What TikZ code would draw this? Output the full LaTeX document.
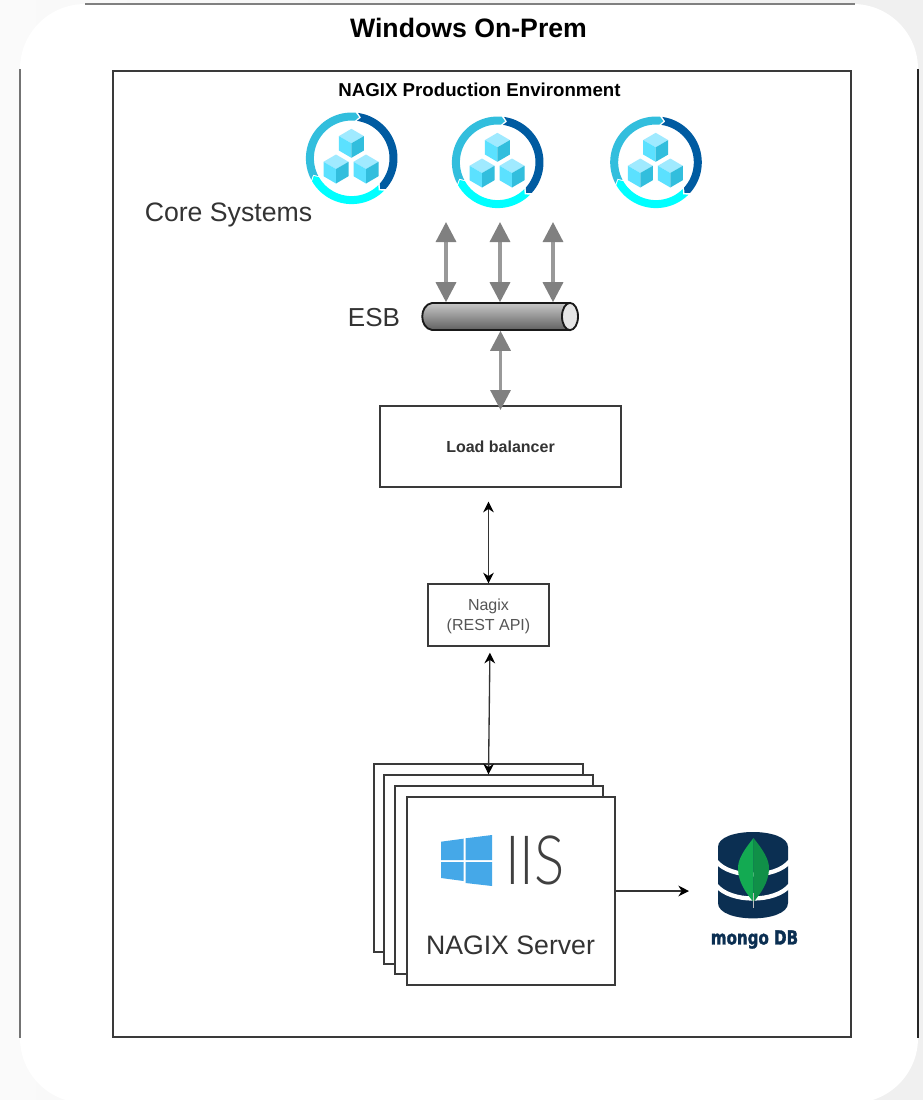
\documentclass[tikz,border=0pt]{standalone}
\usepackage{fontspec}
\usepackage{graphicx}
\setmainfont{Liberation Sans}
\newfontfamily\lightfont{Lato Light}
\newfontfamily\mongofont[BoldFeatures={FakeStretch=0.78,FakeBold=1.6}]{DejaVu Sans}
\usetikzlibrary{arrows.meta,calc}
\definecolor{framec}{HTML}{3A3A3A}
\definecolor{textc}{HTML}{333333}
\definecolor{softtext}{HTML}{555555}
\definecolor{shaftc}{HTML}{999999}
\definecolor{headc}{HTML}{808080}
\definecolor{ringlight}{HTML}{32BEDD}
\definecolor{ringdark}{HTML}{005BA1}
\definecolor{ringcyan}{HTML}{00FFFF}
\definecolor{cubetop}{HTML}{A0EAFF}
\definecolor{cubeleft}{HTML}{5BE1FF}
\definecolor{cuberight}{HTML}{32BEDD}
\definecolor{wincol}{HTML}{45A8E8}
\definecolor{mongodark}{HTML}{0B2F52}
\definecolor{leafl}{HTML}{13AA52}
\definecolor{leafr}{HTML}{109048}
\newcommand{\ringseg}[3]{\fill[#1] plot[domain=#2:#3,samples=30] ({45.8*cos(\x)},{-45.8*sin(\x)}) -- ({41.8*cos(#3-5)},{-41.8*sin(#3-5)}) -- plot[domain=#3:#2,samples=30] ({37.8*cos(\x)},{-37.8*sin(\x)}) -- ({41.8*cos(#2-5)},{-41.8*sin(#2-5)}) -- cycle;}
\newcommand{\onecube}[2]{\begin{scope}[shift={(#1,#2)}]
\fill[cubetop] (0,-14.5) -- (12.5,-7.2) -- (0,0) -- (-12.5,-7.2) -- cycle;
\fill[cubeleft] (-12.5,-7.2) -- (0,0) -- (0,14.5) -- (-12.5,7.2) -- cycle;
\fill[cuberight] (12.5,-7.2) -- (0,0) -- (0,14.5) -- (12.5,7.2) -- cycle;
\end{scope}}
\newcommand{\coreicon}[2]{\begin{scope}[shift={(#1,#2)}]
\ringseg{ringlight}{208}{85}
\ringseg{ringdark}{82}{-42}
\ringseg{ringcyan}{-45}{-150}
\onecube{-0.3}{-15}
\onecube{-15.7}{10.7}
\onecube{14.3}{10.7}
\end{scope}}
\def\pxu{0.75pt}
\tikzset{
  x=0.75pt,y=-0.75pt,
  boxa/.style={draw=framec,line width=1pt,fill=white,inner sep=0pt,rectangle},
  fat/.style={draw=shaftc,line width=2.4pt,{Triangle[length=15pt,width=15pt,color=headc]}-{Triangle[length=15pt,width=15pt,color=headc]}},
  thinbi/.style={draw=black!80,line width=1pt,{Stealth[length=8pt,width=8pt,black]}-{Stealth[length=8pt,width=8pt,black]}},
  thinone/.style={draw=black!80,line width=1pt,-{Stealth[length=8pt,width=8pt,black]}},
  labelt/.style={inner sep=0pt,text=textc,align=center}
}
\begin{document}
\begin{tikzpicture}
\useasboundingbox (0,0) rectangle (923,1100);
\shade[left color=black!2,right color=black!6] (0,0) rectangle (923,1100);
\fill[white,rounded corners=48.75pt] (20,4) rectangle (918,1103);
\draw[black!50,line width=0.9pt] (85,4) -- (855,4);
\draw[black!55,line width=0.9pt] (20,69) -- (20,1038);
\draw[black!85,line width=0.9pt] (918,69) -- (918,1038);

\node[boxa,line width=0.9pt,minimum width=738*\pxu,minimum height=966*\pxu] (prod) at (482,554) {};
\node[labelt,text=black,font=\bfseries\fontsize{20}{24}\selectfont] (title) at (468.5,28) {Windows On-Prem};
\node[labelt,text=black,font=\bfseries\fontsize{14}{17}\selectfont] (prodlabel) at (479.5,90) {NAGIX Production Environment};

\coreicon{351.7}{158.3}
\coreicon{497.7}{162.3}
\coreicon{656}{162.3}
\node[labelt,font=\fontsize{20}{24}\selectfont] (core) at (228.5,215) {Core Systems};
\node[labelt,font=\fontsize{19.5}{24}\selectfont] (esblabel) at (374,318) {ESB};

% ESB tube
\node[inner sep=0pt,minimum width=156*\pxu,minimum height=28*\pxu] (esb) at (500.5,316.5) {};
\path[draw=black!90,line width=1.4pt,top color=black!22,bottom color=black!62]
  (432,303) -- (570,303) -- (570,330) -- (432,330) .. controls (419,328) and (419,305) .. (432,303) -- cycle;
\draw[black!90,line width=1.4pt,fill=black!10] (570,316.5) ellipse [x radius=6pt,y radius=10.2pt];

\node[boxa,minimum width=241*\pxu,minimum height=81*\pxu,font=\bfseries\fontsize{12}{15}\selectfont,text=textc] (lb) at (500.5,446.5) {Load balancer};
\node[boxa,minimum width=121*\pxu,minimum height=62*\pxu] (nagix) at (488.5,615) {};
\node[labelt,font=\fontsize{12}{15}\selectfont,text=softtext] (nagixlabel) at (488.5,616.5) {Nagix\\(REST API)};

\coordinate (t1) at (446,222);
\coordinate (t2) at (500,222);
\coordinate (t3) at (553,222);
\draw[fat] (t1) -- (t1 |- esb.north);
\draw[fat] (t2) -- (t2 |- esb.north);
\draw[fat] (t3) -- (t3 |- esb.north);
\draw[fat] (esb.south) -- (500.5,410);

\node[boxa,minimum width=209*\pxu,minimum height=188*\pxu] (s1) at (478.5,858) {};
\node[boxa,minimum width=209*\pxu,minimum height=189*\pxu] (s2) at (488.5,869.5) {};
\node[boxa,minimum width=208*\pxu,minimum height=188*\pxu] (s3) at (499,880) {};
\node[boxa,minimum width=208*\pxu,minimum height=188*\pxu] (s4) at (511,891) {};

\draw[thinbi,shorten >=10.5pt] (nagix.north) -- (nagix.north |- lb.south);
\draw[thinbi,shorten <=5pt] (490,646) -- (s2.north);

% IIS logo
\fill[wincol] (441,841.7) -- (463.5,838.7) -- (463.5,860) -- (441,860) -- cycle;
\fill[wincol] (465.5,838.3) -- (492,835) -- (492,860) -- (465.5,860) -- cycle;
\fill[wincol] (441,862) -- (463.5,862) -- (463.5,881) -- (441,878) -- cycle;
\fill[wincol] (465.5,862) -- (492,862) -- (492,886) -- (465.5,883) -- cycle;
\node[inner sep=0pt,text=black!75,font=\lightfont\fontsize{51}{55}\selectfont] (iis) at (535,860) {\scalebox{0.83}[1]{IIS}};
\node[labelt,font=\fontsize{20}{24}\selectfont] (server) at (510.5,945) {NAGIX Server};

% Mongo
\coordinate (mongo) at (689,891);
\draw[thinone] (s4.east |- mongo) -- (mongo);
\fill[mongodark] (718,847) .. controls (718,827) and (788,827) .. (788,847) -- (788,903)
  .. controls (788,923.5) and (718,923.5) .. (718,903) -- cycle;
\draw[white,line width=3.2pt] (716,861) .. controls (730,879) and (776,879) .. (790,861);
\draw[white,line width=3.2pt] (716,885) .. controls (730,903) and (776,903) .. (790,885);
\fill[leafl] (753.5,838) .. controls (744,850) and (738,859) .. (738,868) .. controls (738,882) and (746,893) .. (753.5,902) -- cycle;
\fill[leafr] (753.5,838) .. controls (763,850) and (769,859) .. (769,868) .. controls (769,882) and (761,893) .. (753.5,902) -- cycle;
\draw[black!25,line width=0.6pt] (753.5,893) -- (753.5,908);
\node[inner sep=0pt,text=mongodark,font=\mongofont\bfseries\fontsize{14.5}{17}\selectfont] (mongolabel) at (754.5,939.5) {mongo DB};
\end{tikzpicture}
\end{document}
